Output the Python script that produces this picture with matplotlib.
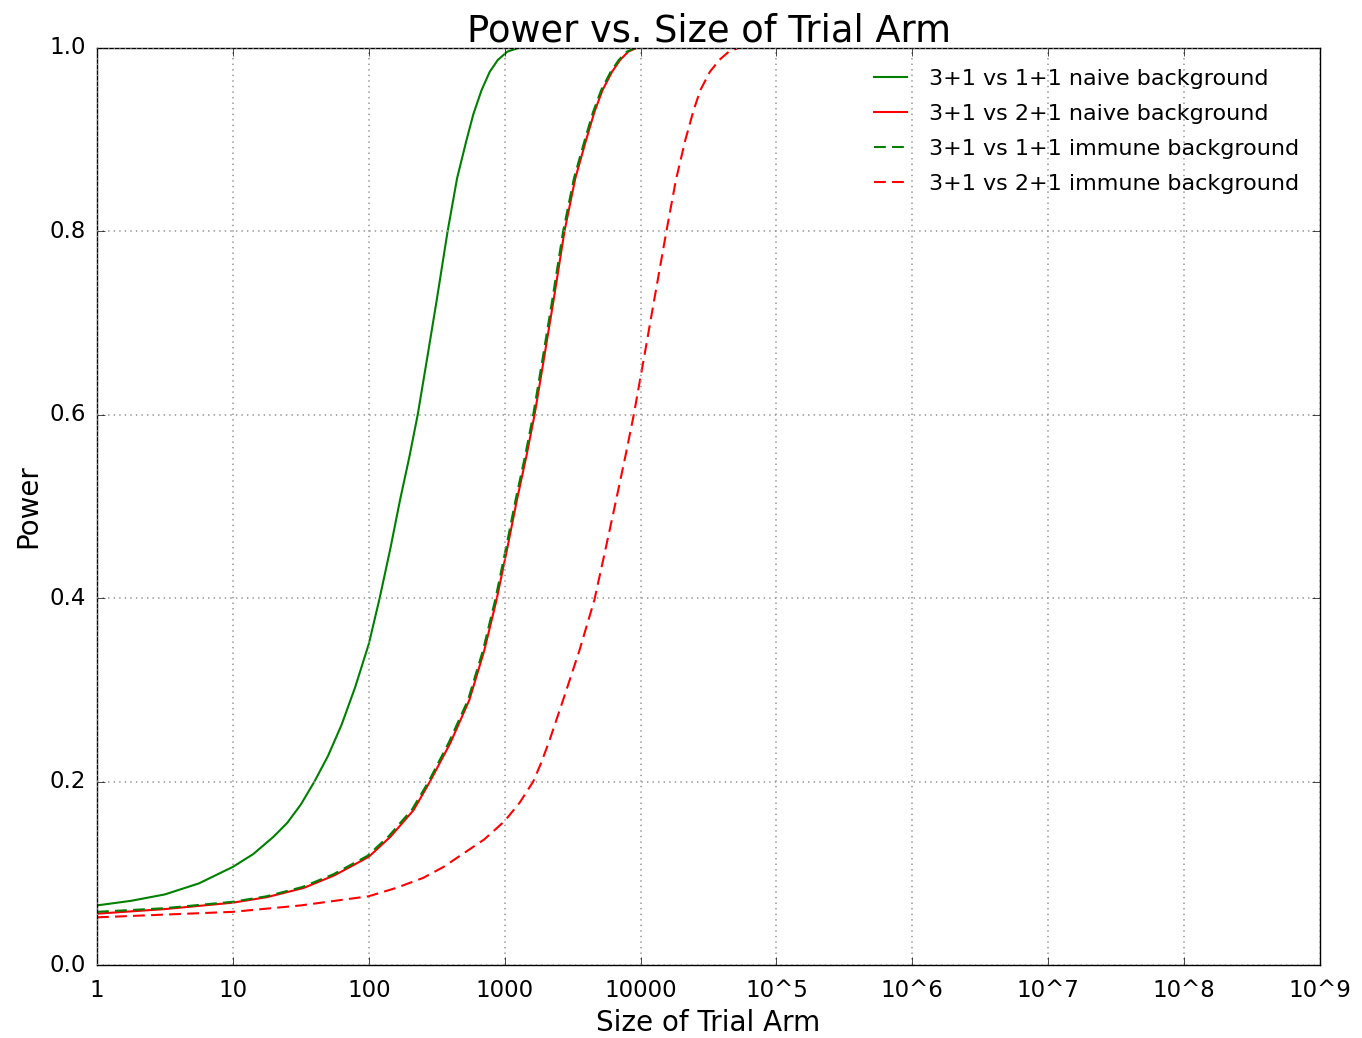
import numpy as np
import matplotlib
matplotlib.use("Agg")
import matplotlib.pyplot as plt

# values (log10 of arm size, power)
naive_11_logn = [0, 0.25, 0.5, 0.75, 1.0, 1.15, 1.30, 1.40, 1.50, 1.60, 1.70, 1.80, 1.90, 2.00,
                 2.08, 2.16, 2.23, 2.30, 2.36, 2.43, 2.50, 2.58, 2.65, 2.72, 2.77, 2.83, 2.89,
                 2.95, 3.02, 3.10, 9]
naive_11_pow = [0.065, 0.070, 0.077, 0.089, 0.107, 0.121, 0.140, 0.155, 0.175, 0.200, 0.228, 0.262,
                0.303, 0.350, 0.400, 0.455, 0.507, 0.555, 0.600, 0.662, 0.725, 0.800, 0.858, 0.900,
                0.928, 0.954, 0.974, 0.987, 0.996, 1.0, 1.0]

naive_21_logn = [0, 0.5, 1.0, 1.25, 1.52, 1.75, 2.0, 2.16, 2.33, 2.45, 2.60, 2.74, 2.85, 2.94,
                 3.02, 3.09, 3.16, 3.22, 3.29, 3.36, 3.44, 3.52, 3.60, 3.66, 3.72, 3.79, 3.85,
                 3.91, 3.97, 9]
naive_21_pow = [0.056, 0.061, 0.068, 0.074, 0.084, 0.098, 0.118, 0.140, 0.169, 0.200, 0.242, 0.289,
                0.343, 0.398, 0.455, 0.507, 0.555, 0.600, 0.662, 0.725, 0.800, 0.858, 0.900, 0.930,
                0.954, 0.974, 0.987, 0.996, 1.0, 1.0]

immune_11_logn = [0, 0.5, 1.0, 1.25, 1.51, 1.74, 1.99, 2.15, 2.32, 2.44, 2.59, 2.73, 2.84, 2.93,
                  3.01, 3.08, 3.15, 3.21, 3.28, 3.35, 3.43, 3.51, 3.59, 3.65, 3.71, 3.78, 3.84,
                  3.90, 3.96, 9]
immune_11_pow = [0.058, 0.062, 0.069, 0.075, 0.085, 0.099, 0.119, 0.141, 0.170, 0.200, 0.243, 0.289,
                 0.343, 0.398, 0.455, 0.507, 0.555, 0.600, 0.662, 0.725, 0.800, 0.858, 0.900, 0.930,
                 0.954, 0.974, 0.987, 0.996, 1.0, 1.0]

immune_21_logn = [0, 0.5, 1.0, 1.5, 2.0, 2.2, 2.4, 2.55, 2.69, 2.85, 3.0, 3.11, 3.21, 3.27, 3.33,
                  3.43, 3.55, 3.66, 3.74, 3.82, 3.89, 3.95, 4.03, 4.10, 4.19, 4.26, 4.33, 4.39,
                  4.44, 4.51, 4.58, 4.65, 4.72, 9]
immune_21_pow = [0.052, 0.055, 0.058, 0.065, 0.075, 0.084, 0.095, 0.107, 0.121, 0.137, 0.157, 0.177,
                 0.200, 0.221, 0.245, 0.289, 0.343, 0.398, 0.452, 0.507, 0.556, 0.600, 0.666, 0.725,
                 0.800, 0.856, 0.900, 0.932, 0.954, 0.974, 0.987, 0.996, 1.0, 1.0]

labels = ["3+1 vs 1+1 naive background", "3+1 vs 2+1 naive background",
          "3+1 vs 1+1 immune background", "3+1 vs 2+1 immune background"]
tick_labels = ["1", "10", "100", "1000", "10000", "10^5", "10^6", "10^7", "10^8", "10^9"]

plt.style.use('classic')
fig = plt.figure(figsize=(13.62, 10.38), dpi=100, facecolor='white')
ax = fig.add_axes([0.0712, 0.0703, 0.898, 0.8835])

series = [
    (naive_11_logn, naive_11_pow, 'g', '-'),
    (naive_21_logn, naive_21_pow, 'r', '-'),
    (immune_11_logn, immune_11_pow, 'g', '--'),
    (immune_21_logn, immune_21_pow, 'r', '--'),
]
for (lx, py, c, ls), lab in zip(series, labels):
    line, = ax.plot(10 ** np.array(lx), py, color=c, linestyle=ls, linewidth=1.5, label=lab)
    if ls == '--':
        line.set_dashes((8.5, 4.5))

ax.set_xscale('log')
ax.set_xlim(1, 1e9)
ax.set_ylim(0, 1.0)
ax.set_xticks([10 ** i for i in range(10)])
ax.set_xticklabels(tick_labels)
ax.minorticks_off()
ax.set_yticks([0.0, 0.2, 0.4, 0.6, 0.8, 1.0])
ax.set_yticklabels(["0.0", "0.2", "0.4", "0.6", "0.8", "1.0"])
ax.tick_params(labelsize=16.5, length=6)
ax.tick_params(axis='x', pad=10)
ax.tick_params(axis='y', pad=8)
ax.grid(True, color='0.6', linestyle=':', linewidth=1.2)

ax.set_title("Power vs. Size of Trial Arm", fontsize=26.5)
ax.set_xlabel("Size of Trial Arm", fontsize=20)
ax.set_ylabel("Power", fontsize=20)

leg = ax.legend(loc='upper right', frameon=False, fontsize=16, numpoints=1, handlelength=1.45,
                handletextpad=1.0, labelspacing=0.67, borderaxespad=0.55)

fig.savefig("out.png", dpi=100, facecolor='white')
